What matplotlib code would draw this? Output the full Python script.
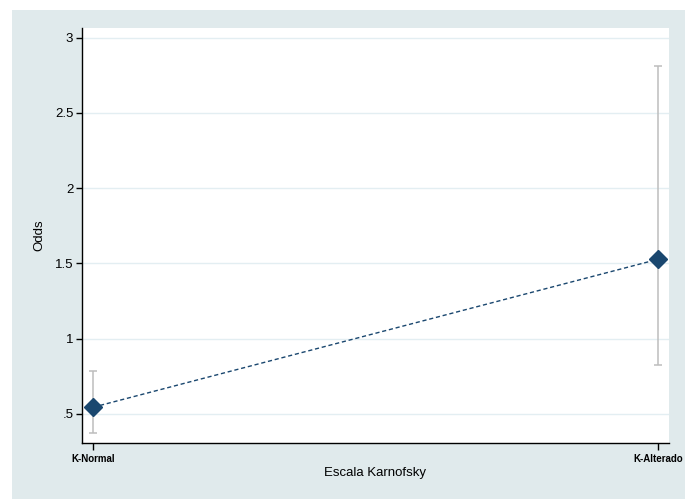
import numpy as np
import matplotlib
matplotlib.use("Agg")
import matplotlib.pyplot as plt
from matplotlib.patches import Rectangle

# odds by Karnofsky scale group, with 95% confidence limits
groups = ["K-Normal", "K-Alterado"]
odds = [0.545, 1.527]
ci_low = [0.376, 0.827]
ci_high = [0.787, 2.814]
yticks = [0.5, 1, 1.5, 2, 2.5, 3]
ytick_labels = [".5", "1", "1.5", "2", "2.5", "3"]

plt.rcParams["font.family"] = ["Liberation Sans", "DejaVu Sans"]

W, H = 694, 501
fig = plt.figure(figsize=(W / 100, H / 100), dpi=100, facecolor="white")

# light graph region behind the plot
fig.add_artist(Rectangle((12 / W, 1 - 499 / H), (685 - 12) / W, (499 - 10) / H,
                         transform=fig.transFigure, facecolor="#e0eaec",
                         edgecolor="none", zorder=-5))

ax = fig.add_axes([82 / W, 1 - 442.7 / H, (669 - 82) / W, (442.7 - 28) / H])
ax.set_zorder(2)
ax.set_facecolor("white")

x = np.arange(len(groups))
odds = np.array(odds)
yerr = np.vstack([odds - np.array(ci_low), np.array(ci_high) - odds])

ax.errorbar(x, odds, yerr=yerr, fmt="none", ecolor="#bdbdbd", elinewidth=1.1,
            capsize=3, capthick=1.1, zorder=2)
ax.plot(x, odds, linestyle=(0, (3, 2)), color="#1a476f", linewidth=1.0, zorder=3)
ax.plot(x, odds, linestyle="none", marker="D", markersize=9, color="#1a476f", zorder=4)

ax.set_xlim(-0.02, 1.02)
ax.set_ylim(0.309, 3.064)
ax.set_xticks(x)
ax.set_xticklabels(groups, fontsize=7, fontweight="bold")
ax.set_yticks(yticks)
ax.set_yticklabels(ytick_labels, fontsize=9.5)
ax.yaxis.grid(True, color="#e3eef2", linewidth=1.0)
ax.set_axisbelow(True)

for side in ["top", "right"]:
    ax.spines[side].set_visible(False)
for side in ["left", "bottom"]:
    ax.spines[side].set_color("black")
    ax.spines[side].set_linewidth(1.0)
ax.tick_params(axis="y", length=4.3, width=1, pad=2)
ax.tick_params(axis="x", length=5, width=1, pad=3)

ax.set_ylabel("Odds", fontsize=9.5, labelpad=7)
ax.set_xlabel("Escala Karnofsky", fontsize=9.5, labelpad=2)

fig.savefig("out.png", dpi=100, facecolor="white")
